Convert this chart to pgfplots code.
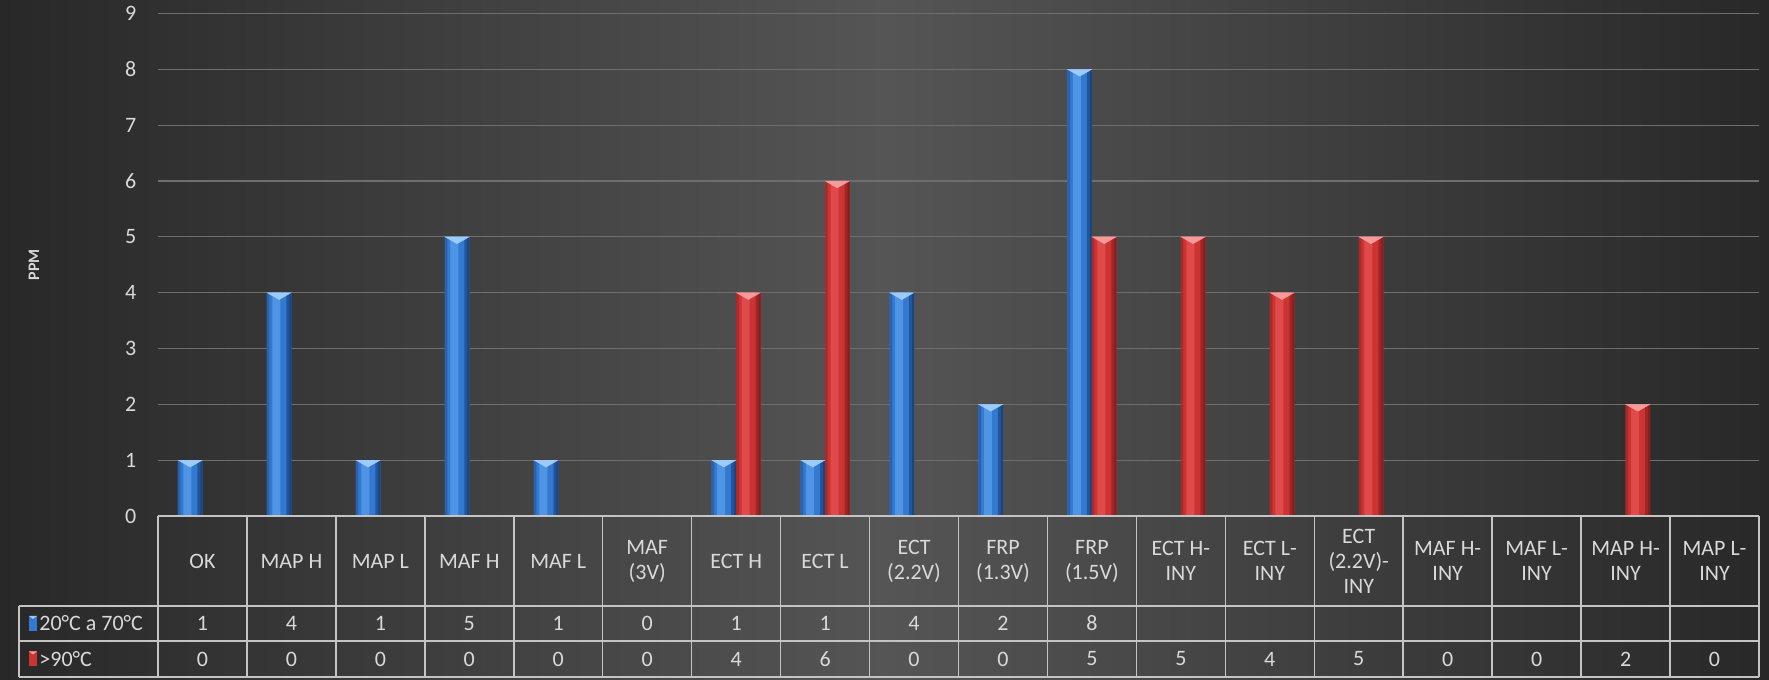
\documentclass[border=0pt]{standalone}
\usepackage{pgfplots}
\usepackage{pgfplotstable}
\pgfplotsset{compat=1.18}
\usepackage{fontspec}
\setmainfont{Carlito}

\definecolor{bgedge}{HTML}{282828}
\definecolor{bgmid}{HTML}{555555}
\definecolor{gridc}{HTML}{6E6E6E}
\definecolor{txt}{HTML}{D9D9D9}
\definecolor{rule}{HTML}{C4C4C4}
% cylinder-like bar tones
\definecolor{bbase}{HTML}{3479D0}
\definecolor{bedge}{HTML}{2A62B0}
\definecolor{bhigh}{HTML}{4F95E6}
\definecolor{bdark}{HTML}{22569C}
\definecolor{bdeep}{HTML}{1A4580}
\definecolor{bcap}{HTML}{9CCBFA}
\definecolor{rbase}{HTML}{CC3434}
\definecolor{redge}{HTML}{A82A2A}
\definecolor{rhigh}{HTML}{E04A4A}
\definecolor{rdark}{HTML}{A02626}
\definecolor{rdeep}{HTML}{851E1E}
\definecolor{rcap}{HTML}{F59A9A}

\pgfplotstableread{
x y
0 1
1 4
2 1
3 5
4 1
5 0
6 1
7 1
8 4
9 2
10 8
}\lowtemp
\pgfplotstableread{
x y
0 0
1 0
2 0
3 0
4 0
5 0
6 4
7 6
8 0
9 0
10 5
11 5
12 4
13 5
14 0
15 0
16 2
17 0
}\hightemp

\pgfplotsset{
  band/.style n args={3}{ybar, draw=none, fill=#1, bar width=#2, bar shift=#3},
  cap/.style n args={2}{only marks, mark=triangle*, color=#1,
    mark options={draw=#1, fill=#1, line width=0.2pt, xshift=#2, yshift=-1.17pt, yscale=-0.33},
    mark size=6.9pt, y filter/.expression={y==0 ? nan : y}, unbounded coords=discard},
}

\begin{document}
\begin{tikzpicture}
% background
\shade[left color=bgedge, right color=bgedge, middle color=bgmid] (0,0) rectangle (884.5pt,340pt);

\begin{axis}[
  at={(79pt,82pt)}, anchor=south west,
  scale only axis, width=800.5pt, height=251.25pt,
  xmin=-0.5, xmax=17.5, ymin=0, ymax=9,
  axis line style={draw=none},
  major tick length=0pt,
  ytick={0,...,9},
  ymajorgrids, grid style={gridc, line width=0.6pt},
  xtick={0,...,17},
  xticklabels={OK, MAP H, MAP L, MAF H, MAF L, {MAF\\(3V)}, ECT H, ECT L,
    {ECT\\(2.2V)}, {FRP\\(1.3V)}, {FRP\\(1.5V)}, {ECT H-\\INY}, {ECT L-\\INY},
    {ECT\\(2.2V)-\\INY}, {MAF H-\\INY}, {MAF L-\\INY}, {MAP H-\\INY}, {MAP L-\\INY}},
  xticklabel style={anchor=center, yshift=-22.5pt, align=center, text=txt,
    font=\fontsize{11}{12.5}\selectfont},
  yticklabel style={text=txt, font=\fontsize{11}{12}\selectfont, xshift=-7.3pt},
  /pgf/number format/assume math mode=true,
  ylabel={PPM},
  every axis y label/.style={at={(axis description cs:-0.0775,0.5)}, rotate=90,
    anchor=center, text=txt, font=\fontsize{8}{9}\selectfont\bfseries},
  clip=false,
]
% 20 C a 70 C
\addplot[band={bbase}{12.25pt}{-6.125pt}] table {\lowtemp};
\addplot[band={bedge}{1.25pt}{-11.625pt}] table {\lowtemp};
\addplot[band={bhigh}{4pt}{-7.5pt}] table {\lowtemp};
\addplot[band={bdark}{2.5pt}{-1.25pt}] table {\lowtemp};
\addplot[band={bdeep}{1pt}{-0.5pt}] table {\lowtemp};
\addplot[cap={bcap}{-6.125pt}] table {\lowtemp};
% >90 C
\addplot[band={rbase}{12.25pt}{6.125pt}] table {\hightemp};
\addplot[band={redge}{1.25pt}{0.625pt}] table {\hightemp};
\addplot[band={rhigh}{4pt}{4.75pt}] table {\hightemp};
\addplot[band={rdark}{2.5pt}{11pt}] table {\hightemp};
\addplot[band={rdeep}{1pt}{11.75pt}] table {\hightemp};
\addplot[cap={rcap}{6.125pt}] table {\hightemp};
\end{axis}

% data table below the chart
\begin{scope}[rule, line width=0.75pt]
  \draw (79pt,82pt) -- (879.5pt,82pt);
  \foreach \y in {37pt,19.5pt,1.5pt} \draw (9.5pt,\y) -- (879.5pt,\y);
  \draw (9.5pt,1.5pt) -- (9.5pt,37pt);
  \foreach \k in {0,...,18} \draw ({79pt+44.4722pt*\k},1.5pt) -- ({79pt+44.4722pt*\k},82pt);
\end{scope}
\begin{scope}[every node/.style={text=txt, font=\fontsize{11}{12}\selectfont, inner sep=0pt}]
  \foreach \v [count=\i from 0] in {1,4,1,5,1,0,1,1,4,2,8}
    \node at ({79pt+44.4722pt*(\i+0.5)},28.25pt) {\v};
  \foreach \v [count=\i from 0] in {0,0,0,0,0,0,4,6,0,0,5,5,4,5,0,0,2,0}
    \node at ({79pt+44.4722pt*(\i+0.5)},10.5pt) {\v};
  \fill[bbase] (14.5pt,24.5pt) rectangle (18.5pt,32pt);
  \fill[bcap] (14.5pt,32pt) -- (18.5pt,32pt) -- (16.5pt,30.5pt) -- cycle;
  \fill[rbase] (14.5pt,6.75pt) rectangle (18.5pt,14.25pt);
  \fill[rcap] (14.5pt,14.25pt) -- (18.5pt,14.25pt) -- (16.5pt,12.75pt) -- cycle;
  \node[anchor=west] at (19.5pt,28.25pt) {20°C a 70°C};
  \node[anchor=west] at (19.5pt,10.5pt) {>90°C};
\end{scope}

\pgfresetboundingbox
\path (0,0) rectangle (884.5pt,340pt);
\end{tikzpicture}
\end{document}
